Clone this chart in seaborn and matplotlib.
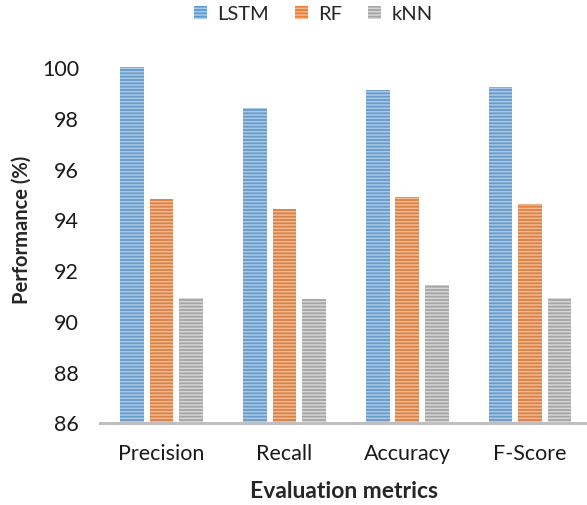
import numpy as np
import pandas as pd
import matplotlib
matplotlib.use("Agg")
import matplotlib.pyplot as plt
from matplotlib.patches import Patch
import seaborn as sns

metrics = ["Precision", "Recall", "Accuracy", "F-Score"]
models = ["LSTM", "RF", "kNN"]
lstm = [100.0, 98.4, 99.1, 99.2]
rf = [94.8, 94.4, 94.9, 94.6]
knn = [90.9, 90.85, 91.4, 90.9]
yticks = [86, 88, 90, 92, 94, 96, 98, 100]

base_colors = ["#5B9BD5", "#ED7D31", "#A5A5A5"]
stripe_colors = ["#A8CBEC", "#F6B88E", "#D6D6D6"]

df = pd.DataFrame({
    "metric": metrics * 3,
    "model": [m for m in models for _ in metrics],
    "value": lstm + rf + knn,
})

sns.set_style("white")
plt.rcParams["font.family"] = ["Lato", "DejaVu Sans"]
plt.rcParams["hatch.linewidth"] = 1.1

fig = plt.figure(figsize=(5.87, 5.06), dpi=100)
ax = fig.add_axes([100 / 587, 1 - 423.5 / 506, 1 - 100 / 587, (423.5 - 68) / 506])

sns.barplot(data=df, x="metric", y="value", hue="model", hue_order=models,
            palette=base_colors, width=0.72, gap=0.2, legend=False, ax=ax)

for cont, sc in zip(ax.containers, stripe_colors):
    for bar in cont:
        bar.set_hatch("-----")
        bar.set_edgecolor(sc)
        bar.set_linewidth(0)

ax.set_ylim(86, 100)
ax.set_xlim(-0.5, 3.463)
ax.set_yticks(yticks)
ax.set_yticklabels([str(t) for t in yticks])
ax.tick_params(axis="both", length=0, labelsize=15.5, colors="#1a1a1a")
ax.tick_params(axis="y", pad=15)
ax.tick_params(axis="x", pad=15)

for s in ["left", "right", "top"]:
    ax.spines[s].set_visible(False)
ax.spines["bottom"].set_color("#BFBFBF")
ax.spines["bottom"].set_linewidth(2.2)

ax.set_xlabel("Evaluation metrics", fontsize=16.5, fontweight="bold", labelpad=12)
ax.set_ylabel("Performance (%)", fontsize=14.5, fontweight="bold")
ax.yaxis.set_label_coords(-68 / 487, 0.5 + 16 / 355)

handles = [Patch(facecolor=c, edgecolor=s, hatch="-----", linewidth=0, label=m)
           for c, s, m in zip(base_colors, stripe_colors, models)]
fig.legend(handles=handles, loc="center", bbox_to_anchor=(313 / 587, 1 - 15 / 506),
           ncol=3, frameon=False, fontsize=14.5, handlelength=0.65, handleheight=0.65,
           handletextpad=0.5, columnspacing=1.3)

fig.savefig("out.png", dpi=100)
